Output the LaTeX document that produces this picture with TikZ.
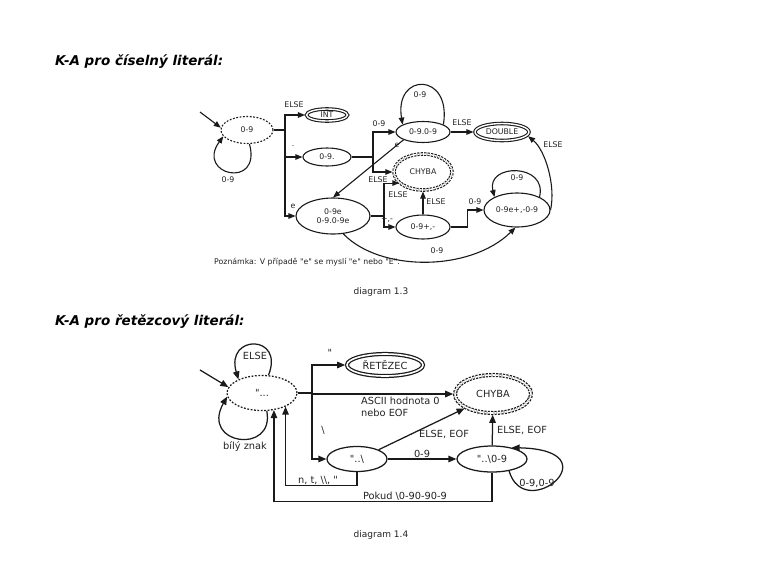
\documentclass[tikz,border=0pt]{standalone}
\usepackage{fontspec}
\setmainfont{DejaVu Sans}[Ligatures=TeXOff]
\usetikzlibrary{shapes.geometric,arrows.meta}
\definecolor{linec}{HTML}{1A1A1A}
\definecolor{txtc}{HTML}{222222}
\begin{document}
\begin{tikzpicture}[x=1pt,y=-1pt,
  st13/.style={ellipse,draw=linec,inner sep=0pt,line width=1.1pt,text=txtc,font=\fontsize{7.8}{9.2}\selectfont},
  st14/.style={ellipse,draw=linec,inner sep=0pt,line width=1.25pt,text=txtc,font=\fontsize{9.8}{11}\selectfont},
  dotst/.style={dash pattern=on 1.8pt off 1.6pt},
  dbl13/.style={double,double distance=1.4pt},
  dbl14/.style={double,double distance=1.6pt},
  dashst/.style={dash pattern=on 2.2pt off 1.2pt},
  ln13/.style={draw=linec,line width=1.1pt},
  ar13/.style={ln13,-{Triangle[length=7pt,width=5.5pt]}},
  ln14/.style={draw=linec,line width=1.25pt},
  ar14/.style={ln14,-{Triangle[length=8pt,width=6.5pt]}},
  lb13/.style={text=txtc,inner sep=0pt,font=\fontsize{7.8}{9.2}\selectfont},
  lb14/.style={text=txtc,inner sep=0pt,font=\fontsize{9.8}{11.5}\selectfont},
  head/.style={text=black,inner sep=0pt,anchor=west,font=\fontsize{13.5}{15}\selectfont\bfseries\itshape},
  capt/.style={text=txtc,inner sep=0pt,font=\fontsize{9}{10}\selectfont}
]
\useasboundingbox (0,0) rectangle (761,582);

% ---------------- diagram 1.3 ----------------
\node[head] (h1) at (55,62) {K-A pro číselný literál:};

\node[st13,dotst,minimum width=52pt,minimum height=27pt] (A) at (247,130) {0-9};
\node[st13,dbl13,minimum width=41pt,minimum height=12pt] (INT) at (327,115) {INT};
\node[st13,minimum width=48pt,minimum height=18pt] (D1) at (327,157) {0-9.};
\node[st13,align=center,minimum width=74pt,minimum height=36pt] (E) at (333,216) {0-9e\\0-9.0-9e};
\node[st13,minimum width=54pt,minimum height=21pt] (F) at (423,132) {0-9.0-9};
\node[st13,dbl13,minimum width=54pt,minimum height=17pt] (DBL) at (502,132) {DOUBLE};
\node[st13,dbl13,dashst,minimum width=58pt,minimum height=36pt] (C1) at (423,172) {CHYBA};
\node[st13,minimum width=54pt,minimum height=24pt] (G) at (423,227) {0-9+,-};
\node[st13,minimum width=66pt,minimum height=34pt] (H) at (517,210) {0-9e+,-0-9};

\coordinate (s1) at (200,112);
\draw[ar13] (s1) -- (A.175);
\draw[ar13] (A.-80) .. controls (262,190) and (195,175) .. (A.195);
\node[lb13] at (228,180) {0-9};

\draw[ln13] (A.east) -- (285,130) coordinate (t1);
\draw[ar13,shorten >=1pt] (t1) |- (INT);
\draw[ar13] (t1) |- (D1);
\draw[ar13] (t1) |- (E);
\node[lb13] at (294,105) {ELSE};
\node[lb13] at (293,146) {.};
\node[lb13] at (293,206) {e};

\draw[ln13] (D1.east) -- (373,157) coordinate (t2);
\draw[ar13] (t2) |- (F);
\node[lb13] at (379,124) {0-9};
\draw[ar13,shorten >=1pt] (t2) |- (C1);
\node[lb13] at (378,180) {ELSE};
\draw[ar13] (F.south west) -- (E.north);
\node[lb13] at (397,145) {e};

\draw[ln13] (E.east) -- (384,216) coordinate (t3);
\draw[ar13] (t3) |- (C1.205);
\node[lb13] at (398,195) {ELSE};
\draw[ar13] (t3) |- (G);
\node[lb13] at (387,220) {+,-};

\draw[ar13,shorten >=1pt] (G) -- (C1);
\node[lb13] at (436,202) {ELSE};
\draw[ar13] (G.east) -- ++(17,0) |- (H);
\node[lb13] at (475,202) {0-9};

\draw[ar13,shorten >=1pt] (F) -- (DBL);
\node[lb13] at (462,123) {ELSE};
\draw[ar13] (F.20) .. controls (452,72) and (394,72) .. (F.160);
\node[lb13] at (420,95) {0-9};
\draw[ar13] (H.30) .. controls (548,163) and (486,163) .. (H.150);
\node[lb13] at (517,178) {0-9};
\draw[ar13,shorten >=1pt] (H.east) .. controls (556,185) and (545,150) .. (DBL.-8);
\node[lb13] at (553,145) {ELSE};
\draw[ar13] (E.300) .. controls (380,272) and (470,272) .. (H.265);
\node[lb13] at (437,251) {0-9};

\node[lb13,anchor=west] (note) at (214,262) {Poznámka: V případě "e" se myslí "e" nebo "E".};
\node[capt] (c13) at (381,292) {diagram 1.3};

% ---------------- diagram 1.4 ----------------
\node[head] (h2) at (55,322) {K-A pro řetězcový literál:};

\node[st14,dotst,minimum width=70pt,minimum height=35pt] (S) at (262,393) {"...};
\node[st14,dbl14,minimum width=76pt,minimum height=22pt] (R) at (385,365) {ŘETĚZEC};
\node[st14,dbl14,dashst,minimum width=76pt,minimum height=38pt] (C2) at (493,394) {CHYBA};
\node[st14,minimum width=60pt,minimum height=25pt] (B) at (357,459) {"..\textbackslash};
\node[st14,minimum width=70pt,minimum height=26pt] (N) at (492,459) {"..\textbackslash 0-9};

\coordinate (s2) at (200,370);
\draw[ar14] (s2) -- (S.170);
\draw[ar14] (S.70) .. controls (285,334) and (225,334) .. (S.150);
\node[lb14] at (255,356) {ELSE};
\draw[ar14] (S.-75) .. controls (275,455) and (200,445) .. (S.186);
\node[lb14] at (245,447) {bílý znak};

\draw[ln14] (S.east) -- (312,393) coordinate (t4);
\draw[ar14,shorten >=1.2pt] (t4) |- (R);
\node[lb14] at (330,353) {"};
\draw[ar14,shorten >=1.2pt] (t4) |- (C2);
\node[lb14,anchor=north west,align=left] at (361,397) {ASCII hodnota 0\\nebo EOF};
\draw[ar14] (t4) |- (B);
\node[lb14] at (323,430) {\textbackslash};

\draw[ar14] (B.south) -- ++(0,13) -| (S.-30);
\node[lb14] at (318,480) {n, t, \textbackslash\textbackslash, "};
\draw[ar14] (N.south) -- ++(0,29) -| (S.-55);
\node[lb14] at (405,496) {Pokud \textbackslash 0-90-90-9};

\draw[ar14] (B) -- (N);
\node[lb14] at (422,454) {0-9};
\draw[ar14,shorten >=1.2pt] (B.north east) -- (C2.south west);
\node[lb14] at (444,434) {ELSE, EOF};
\draw[ar14,shorten >=1.2pt] (N) -- (C2);
\node[lb14] at (522,430) {ELSE, EOF};
\draw[ar14] (N.-35) .. controls (525,525) and (615,450) .. (N.30);
\node[lb14] at (537,483) {0-9,0-9};

\node[capt] (c14) at (381,535) {diagram 1.4};
\end{tikzpicture}
\end{document}
